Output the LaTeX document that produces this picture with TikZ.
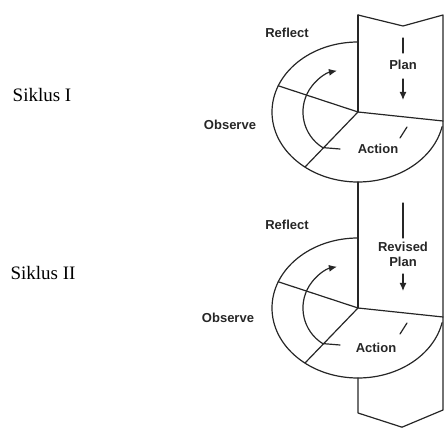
\documentclass[tikz,border=0pt]{standalone}
\usepackage{fontspec}
\setmainfont{Liberation Serif}
\newfontfamily\labfont{Liberation Sans}
\usetikzlibrary{arrows.meta}
\tikzset{
  ln/.style={line width=1.2pt, draw=black!85, line cap=round, line join=round},
  lbl/.style={font=\labfont\bfseries\fontsize{13}{15}\selectfont, text=black!85, inner sep=0pt},
  sik/.style={font=\fontsize{19}{22}\selectfont, inner sep=0pt},
  tip/.style={-{Latex[length=8pt,width=7pt]}}
}
\begin{document}
\begin{tikzpicture}[x=1pt,y=1pt]
\useasboundingbox (0,0) rectangle (445,428);

% column outline
\coordinate (tl) at (358,413);
\coordinate (tn) at (403,402);
\coordinate (tr) at (443,413);
\coordinate (bl) at (358,15);
\coordinate (bn) at (402,0.8);
\coordinate (br) at (443,18);
\coordinate (c1) at (358,316);
\coordinate (c2) at (358,120);
\coordinate (e1b) at (358,246);
\coordinate (e2b) at (358,50);
\draw[ln] (tl) -- (tn) -- (tr) -- (br) -- (bn) -- (bl) -- (e2b);
\draw[ln] (tl) -- (c1);
\draw[ln] (e1b) -- (c2);

% two cycles
\foreach \dy/\nm in {196/one, 0/two}{
  \begin{scope}[yshift=\dy pt]
    \coordinate (cen-\nm) at (358,120);
    \coordinate (ul-\nm) at (278.3,146.2);
    \coordinate (ur-\nm) at (443,111);
    \coordinate (ll-\nm) at (305,65);
    \draw[ln] (358,190) arc[start angle=90, end angle=348, x radius=86, y radius=70];
    \draw[ln] (ul-\nm) -- (cen-\nm) -- (ur-\nm);
    \draw[ln] (cen-\nm) -- (ll-\nm);
    \coordinate (tail-\nm) at (340,83);
    \draw[ln, tip] (tail-\nm) -- (322.7,84.4) arc[start angle=238, end angle=101, radius=42];
    \coordinate (k1-\nm) at (400,94);
    \coordinate (k2-\nm) at (407,105);
    \draw[ln] (k1-\nm) -- (k2-\nm);
  \end{scope}
}

% labels cycle 1
\node[lbl] (reflect1) at (287,395) {Reflect};
\node[lbl] (observe1) at (230,303) {Observe};
\node[lbl] (action1) at (378,279) {Action};
\node[lbl] (plan1) at (403,363) {Plan};
\node[sik] (siklus1) at (42,333) {Siklus I};
\coordinate (p1a) at (403,390);
\coordinate (p1b) at (403,375);
\coordinate (p1c) at (403,349);
\coordinate (p1d) at (403,328);
\draw[ln] (p1a) -- (p1b);
\draw[ln, tip] (p1c) -- (p1d);

% labels cycle 2
\node[lbl] (reflect2) at (287,203) {Reflect};
\node[lbl] (observe2) at (228,110) {Observe};
\node[lbl] (action2) at (376,80) {Action};
\node[lbl] (revised) at (403,181) {Revised};
\node[lbl] (plan2) at (403,166) {Plan};
\node[sik] (siklus2) at (43,155) {Siklus II};
\coordinate (p2a) at (403,225);
\coordinate (p2b) at (403,190);
\coordinate (p2c) at (403,154);
\coordinate (p2d) at (403,137);
\draw[ln] (p2a) -- (p2b);
\draw[ln, tip] (p2c) -- (p2d);
\end{tikzpicture}
\end{document}
